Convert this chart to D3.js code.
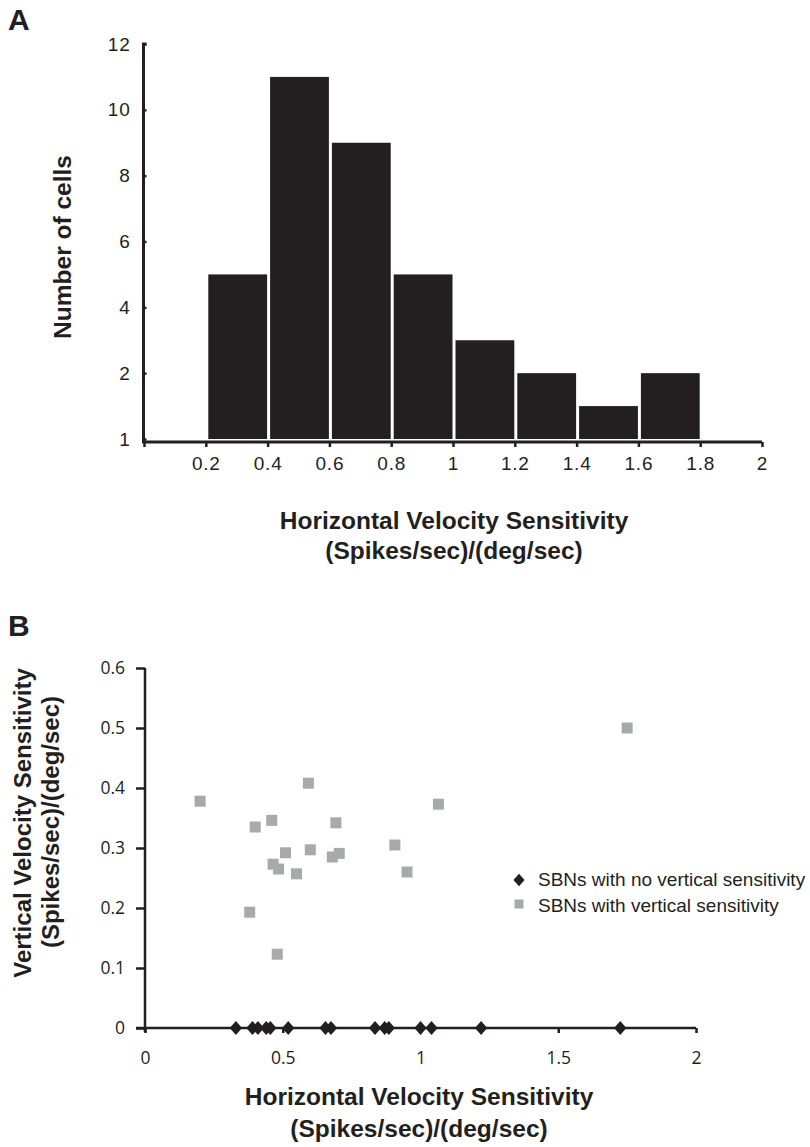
<!DOCTYPE html>
<html><head><meta charset="utf-8">
<script src="https://cdn.jsdelivr.net/npm/d3@7"></script>
<style>
body{margin:0;background:#fff;}
svg{display:block;}
text{fill:#231f20;}
</style></head>
<body>
<svg id="chart" width="810" height="1147"></svg>
<script>
// ---------- Panel A data ----------
const binStarts = [0.2, 0.4, 0.6, 0.8, 1.0, 1.2, 1.4, 1.6];
const binWidth = 0.2;
const cellCounts = [5, 11, 9, 5, 3, 2, 1, 2];
const aYTicks = [0, 2, 4, 6, 8, 10, 12];
const aYTickLabels = ["1", "2", "4", "6", "8", "10", "12"];
const aXTicks = [0, 0.2, 0.4, 0.6, 0.8, 1.0, 1.2, 1.4, 1.6, 1.8, 2.0];
const aXTickLabels = ["", "0.2", "0.4", "0.6", "0.8", "1", "1.2", "1.4", "1.6", "1.8", "2"];

// ---------- Panel B data ----------
const noVertH = [0.33, 0.39, 0.41, 0.44, 0.455, 0.52, 0.655, 0.675, 0.835, 0.87, 0.885, 1.0, 1.04, 1.22, 1.725];
const noVertV = [0, 0, 0, 0, 0, 0, 0, 0, 0, 0, 0, 0, 0, 0, 0];
const vertH = [0.20, 0.38, 0.40, 0.46, 0.465, 0.485, 0.48, 0.51, 0.55, 0.593, 0.60, 0.68, 0.693, 0.705, 0.907, 0.951, 1.065, 1.75];
const vertV = [0.378, 0.193, 0.335, 0.346, 0.273, 0.265, 0.123, 0.292, 0.257, 0.408, 0.297, 0.285, 0.342, 0.291, 0.305, 0.260, 0.373, 0.50];
const bXTicks = [0, 0.5, 1, 1.5, 2];
const bXTickLabels = ["0", "0.5", "1", "1.5", "2"];
const bYTicks = [0, 0.1, 0.2, 0.3, 0.4, 0.5, 0.6];
const bYTickLabels = ["0", "0.1", "0.2", "0.3", "0.4", "0.5", "0.6"];
const legendLabels = ["SBNs with no vertical sensitivity", "SBNs with vertical sensitivity"];

const ink = "#231f20";
const grey = "#a7a9ac";
const svg = d3.select("#chart");
const arial = "'Liberation Sans', Arial, Helvetica, sans-serif";
const tickFontB = "'Open Sans', 'DejaVu Sans', sans-serif";

// wide diamond symbol (width ~ 0.85 * height)
const wideDiamond = {
  draw(ctx, size) {
    const h = Math.sqrt(size) / 2, w = h * 0.88;
    ctx.moveTo(0, -h); ctx.lineTo(w, 0); ctx.lineTo(0, h); ctx.lineTo(-w, 0); ctx.closePath();
  }
};

// ================= Panel A =================
const xA = d3.scaleLinear().domain([0, 2]).range([144, 762]);
const yA = d3.scaleLinear().domain([0, 12]).range([439, 44]);

svg.append("text").attr("x", 8).attr("y", 30).attr("font-family", arial)
  .attr("font-weight", "bold").attr("font-size", 30).text("A");

const gA = svg.append("g");
gA.selectAll("rect.bar").data(binStarts).join("rect")
  .attr("class", "bar")
  .attr("x", d => xA(d) + 2.5)
  .attr("width", d => xA(d + binWidth) - xA(d) - 3)
  .attr("y", (d, i) => yA(cellCounts[i]))
  .attr("height", (d, i) => yA(0) - yA(cellCounts[i]))
  .attr("fill", ink);

// x axis A
const axA = d3.axisBottom(xA).tickValues(aXTicks).tickSize(5).tickPadding(10)
  .tickFormat((d, i) => aXTickLabels[i]);
const gxA = svg.append("g").attr("transform", "translate(0,442)").call(axA);
gxA.select(".domain").attr("d", `M${xA(0)},0H${xA(2)}`).attr("stroke", ink).attr("stroke-width", 3);
gxA.selectAll(".tick line").attr("stroke", ink).attr("stroke-width", 2.5);
gxA.selectAll(".tick text").attr("font-family", arial).attr("font-size", 19)
  .attr("letter-spacing", 0.8).attr("fill", ink);

// y axis A
const ayA = d3.axisLeft(yA).tickValues(aYTicks).tickSize(-3).tickPadding(13)
  .tickFormat((d, i) => aYTickLabels[i]);
const gyA = svg.append("g").attr("transform", "translate(143.5,0)").call(ayA);
gyA.select(".domain").attr("d", `M3,${yA(12)}H0V443.5`).attr("stroke", ink).attr("stroke-width", 3).attr("fill", "none");
gyA.selectAll(".tick line").attr("stroke", ink).attr("stroke-width", 2.5);
gyA.selectAll(".tick text").attr("font-family", arial).attr("font-size", 19)
  .attr("letter-spacing", 0.8).attr("fill", ink);

svg.append("text").attr("transform", "translate(71,247) rotate(-90)")
  .attr("text-anchor", "middle").attr("font-family", arial).attr("font-weight", "bold")
  .attr("font-size", 24.5).text("Number of cells");
svg.append("text").attr("x", 454).attr("y", 529).attr("text-anchor", "middle")
  .attr("font-family", arial).attr("font-weight", "bold").attr("font-size", 24.5)
  .text("Horizontal Velocity Sensitivity");
svg.append("text").attr("x", 454).attr("y", 559).attr("text-anchor", "middle")
  .attr("font-family", arial).attr("font-weight", "bold").attr("font-size", 24.5)
  .text("(Spikes/sec)/(deg/sec)");

// ================= Panel B =================
const xB = d3.scaleLinear().domain([0, 2]).range([145, 696]);
const yB = d3.scaleLinear().domain([0, 0.6]).range([1028, 668]);

svg.append("text").attr("x", 8).attr("y", 636).attr("font-family", arial)
  .attr("font-weight", "bold").attr("font-size", 30).text("B");

// x axis B
const axB = d3.axisBottom(xB).tickValues(bXTicks).tickSize(5).tickPadding(19)
  .tickFormat((d, i) => bXTickLabels[i]);
const gxB = svg.append("g").attr("transform", "translate(0,1028)").call(axB);
gxB.select(".domain").attr("d", `M${xB(0) - 9},0H${xB(2)}`).attr("stroke", ink).attr("stroke-width", 2.5);
gxB.selectAll(".tick line").attr("stroke", ink).attr("stroke-width", 2.5);
gxB.selectAll(".tick text").attr("font-family", tickFontB).attr("font-size", 17.5).attr("fill", ink);

// y axis B
const ayB = d3.axisLeft(yB).tickValues(bYTicks).tickSize(9).tickPadding(11)
  .tickFormat((d, i) => bYTickLabels[i]);
const gyB = svg.append("g").attr("transform", "translate(145,0)").call(ayB);
gyB.select(".domain").attr("d", `M0,${yB(0.6)}V${yB(0) + 4}`).attr("stroke", ink).attr("stroke-width", 2.5);
gyB.selectAll(".tick line").attr("stroke", ink).attr("stroke-width", 2.5);
gyB.selectAll(".tick text").attr("font-family", tickFontB).attr("font-size", 17.5).attr("fill", ink);

// points
const diamond = d3.symbol().type(wideDiamond).size(196);
const sqSize = 11;
svg.append("g").selectAll("rect").data(vertH).join("rect")
  .attr("x", d => xB(d) - sqSize / 2)
  .attr("y", (d, i) => yB(vertV[i]) - sqSize / 2)
  .attr("width", sqSize).attr("height", sqSize).attr("fill", grey);
svg.append("g").selectAll("path").data(noVertH).join("path")
  .attr("d", diamond)
  .attr("transform", (d, i) => `translate(${xB(d)},${yB(noVertV[i])})`)
  .attr("fill", ink);

// legend
const lg = svg.append("g");
lg.append("path").attr("d", d3.symbol().type(wideDiamond).size(160))
  .attr("transform", "translate(519,880)").attr("fill", ink);
lg.append("rect").attr("x", 514.5).attr("y", 899.5).attr("width", 9).attr("height", 9).attr("fill", grey);
lg.selectAll("text").data(legendLabels).join("text")
  .attr("x", 538).attr("y", (d, i) => 886 + i * 26)
  .attr("font-family", arial).attr("font-size", 19).text(d => d);

// axis titles B
svg.append("text").attr("transform", "translate(31,823) rotate(-90)")
  .attr("text-anchor", "middle").attr("font-family", arial).attr("font-weight", "bold")
  .attr("font-size", 24).text("Vertical Velocity Sensitivity");
svg.append("text").attr("transform", "translate(59,822) rotate(-90)")
  .attr("text-anchor", "middle").attr("font-family", arial).attr("font-weight", "bold")
  .attr("font-size", 24).text("(Spikes/sec)/(deg/sec)");
svg.append("text").attr("x", 419).attr("y", 1105).attr("text-anchor", "middle")
  .attr("font-family", arial).attr("font-weight", "bold").attr("font-size", 24.5)
  .text("Horizontal Velocity Sensitivity");
svg.append("text").attr("x", 419).attr("y", 1137).attr("text-anchor", "middle")
  .attr("font-family", arial).attr("font-weight", "bold").attr("font-size", 24.5)
  .text("(Spikes/sec)/(deg/sec)");
</script>
</body></html>
